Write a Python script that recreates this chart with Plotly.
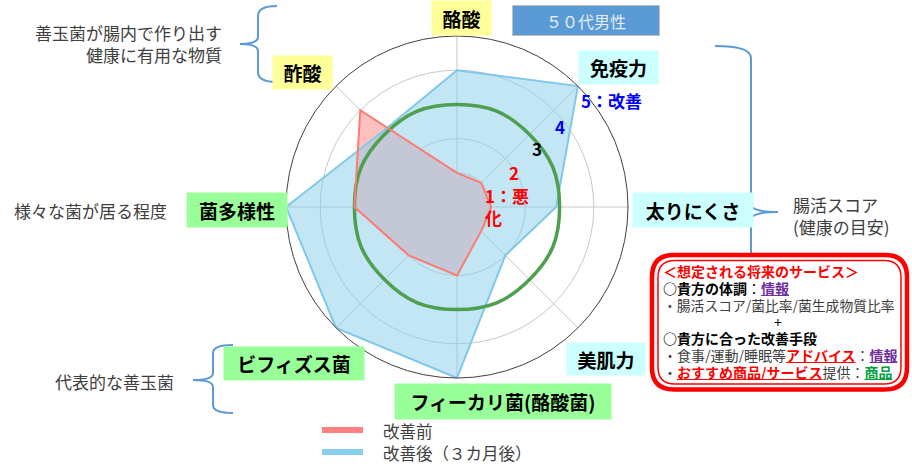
import plotly.graph_objects as go

W, H = 912, 475

# ---- data ----
categories = ["酪酸", "免疫力", "太りにくさ", "美肌力", "フィーカリ菌(酪酸菌)", "ビフィズス菌", "菌多様性", "酢酸"]
before_vals = [1, 1, 1, 1, 2, 2, 3, 4]          # 改善前
after_vals = [4, 5, 2.9, 2, 5, 5, 5, 3.1]        # 改善後（３カ月後）
average_vals = [3, 3, 3, 3, 3, 3, 3, 3]          # reference level
radial_ticks = [1, 2, 3, 4, 5]
series_names = ["改善前", "改善後（３カ月後）"]

FONT = "Noto Sans CJK JP"


def px(x):
    return x / W


def py(y):
    return 1 - y / H


def closed(v):
    return list(v) + [v[0]]


theta = closed(categories)

fig = go.Figure()

# red fill (under)
fig.add_trace(go.Scatterpolar(r=closed(before_vals), theta=theta, mode="lines", fill="toself",
                              fillcolor="rgb(255,192,192)", line=dict(width=0, color="rgba(0,0,0,0)"),
                              showlegend=False, hoverinfo="skip"))
# blue
fig.add_trace(go.Scatterpolar(r=closed(after_vals), theta=theta, mode="lines", fill="toself",
                              fillcolor="rgba(135,206,235,0.5)", line=dict(width=2, color="#80C8E8"),
                              name=series_names[1], showlegend=False))
# green reference circle
fig.add_trace(go.Scatterpolar(r=closed(average_vals), theta=theta, mode="lines",
                              line=dict(width=3.5, color="#4E9F50", shape="spline", smoothing=1.3),
                              showlegend=False, hoverinfo="skip"))
# red line on top
fig.add_trace(go.Scatterpolar(r=closed(before_vals), theta=theta, mode="lines",
                              line=dict(width=2, color="#FF7B72"),
                              name=series_names[0], showlegend=False))

cx, cy, R = 457, 207, 171

fig.update_layout(
    width=W, height=H, margin=dict(l=0, r=0, t=0, b=0),
    paper_bgcolor="white", plot_bgcolor="white",
    font=dict(family=FONT, color="#404040"),
    polar=dict(
        domain=dict(x=[px(cx - R), px(cx + R)], y=[py(cy + R), py(cy - R)]),
        bgcolor="white",
        angularaxis=dict(categoryarray=categories, categoryorder="array", rotation=90,
                         direction="clockwise", showticklabels=False, ticks="",
                         linecolor="#404040", linewidth=1, gridcolor="#C8C8C8", gridwidth=1),
        radialaxis=dict(range=[0, 5], tickvals=radial_ticks, showticklabels=False, ticks="",
                        showline=False, gridcolor="#C8C8C8", gridwidth=1),
    ),
)

annotations = []


def box(text, x0, y0, x1, y1, bg, size=19, color="#000000", bold=True):
    annotations.append(dict(
        text=f"<b>{text}</b>" if bold else text, x=px((x0 + x1) / 2), y=py((y0 + y1) / 2),
        xref="paper", yref="paper", xanchor="center", yanchor="middle", showarrow=False,
        width=x1 - x0, height=y1 - y0, bgcolor=bg, borderpad=0,
        font=dict(family=FONT, size=size, color=color)))


YEL, CYN, GRN = "#FFFF99", "#CCFFFF", "#99FF99"
box(categories[0], 432, 1, 491, 35, YEL)
box(categories[7], 273, 56, 332, 89, YEL)
box(categories[1], 579, 51, 658, 84, CYN)
box(categories[2], 633, 193, 753, 227, CYN)
box(categories[3], 567, 343, 645, 375, CYN)
box(categories[4], 395, 384, 611, 419, GRN)
box(categories[5], 224, 347, 364, 380, GRN)
box(categories[6], 187, 193, 287, 227, GRN)

# title box
annotations.append(dict(text="５０代男性", x=px(586), y=py(20.5), xref="paper", yref="paper",
                        xanchor="center", yanchor="middle", showarrow=False, width=146, height=29,
                        bgcolor="#5B9BD5", bordercolor="#BFBFBF", borderwidth=1, borderpad=0,
                        font=dict(family=FONT, size=16, color="#E4ECF6")))


def txt(text, x, y, size=17, color="#404040", xanchor="left", align="left", height=None):
    a = dict(text=text, x=px(x), y=py(y), xref="paper", yref="paper",
             xanchor=xanchor, yanchor="middle", showarrow=False, align=align,
             font=dict(family=FONT, size=size, color=color))
    if height is not None:
        a["height"] = height
        a["borderpad"] = 0
    annotations.append(a)


txt("善玉菌が腸内で作り出す<br>健康に有用な物質", 224, 44, xanchor="right", align="right")
txt("様々な菌が居る程度", 12, 210)
txt("代表的な善玉菌", 53, 381)
txt("腸活スコア<br>(健康の目安)", 791, 216)

# scale labels
txt("<b>5：改善</b>", 579, 100, color="#0000FF")
txt("<b>4</b>", 560, 126, color="#0000FF", xanchor="center")
txt("<b>3</b>", 537, 148, color="#000000", xanchor="center")
txt("<b>2</b>", 514, 172, color="#FF0000", xanchor="center")
txt("<b>1：悪<br>化</b>", 483, 206, color="#FF0000")

# legend
txt(series_names[0], 381, 431, size=16.5)
txt(series_names[1], 381, 453, size=16.5)

# service box text
BX = 662
LH = 16
RED, PUR, GR = "#FF0000", "#7030A0", "#00A040"
txt(f"<b>＜想定される将来のサービス＞</b>", BX, 271, size=14, color=RED, height=LH)
txt(f"<b>○貴方の体調</b>：<span style='color:{PUR}'><b><u>情報</u></b></span>", BX, 288, size=14,
    color="#000000", height=LH)
txt("・腸活スコア/菌比率/菌生成物質比率", BX, 305, size=13.8, height=LH)
txt("+", 778, 322, size=14, color="#000000", xanchor="center", height=LH)
txt("<b>○貴方に合った改善手段</b>", BX, 338, size=14, color="#000000", height=LH)
txt(f"・食事/運動/睡眠等<span style='color:{RED}'><b><u>アドバイス</u></b></span>：<span style='color:{PUR}'><b><u>情報</u></b></span>",
    BX, 355, size=14, height=LH)
txt(f"・<span style='color:{RED}'><b><u>おすすめ商品/サービス</u></b></span>提供：<span style='color:{GR}'><b><u>商品</u></b></span>",
    BX, 372, size=14, height=LH)

fig.update_layout(annotations=annotations)


def path(cmds):
    out = []
    for c in cmds:
        if isinstance(c, str):
            out.append(c)
        else:
            out.append(f"{px(c[0]):.5f},{py(c[1]):.5f}")
    return " ".join(out)


def rrect(x0, y0, x1, y1, r):
    return path(["M", (x0 + r, y0), "L", (x1 - r, y0), "Q", (x1, y0), (x1, y0 + r),
                 "L", (x1, y1 - r), "Q", (x1, y1), (x1 - r, y1), "L", (x0 + r, y1),
                 "Q", (x0, y1), (x0, y1 - r), "L", (x0, y0 + r), "Q", (x0, y0), (x0 + r, y0), "Z"])


BLUE_BR = "#5B9BD5"
shapes = []
# left top brace
shapes.append(dict(type="path", xref="paper", yref="paper", line=dict(color=BLUE_BR, width=2),
                   path=path(["M", (277, 6), "Q", (258, 6), (258, 16), "L", (258, 37), "Q", (258, 44), (240, 44),
                              "Q", (258, 44), (258, 51), "L", (258, 72), "Q", (258, 82), (277, 82)])))
# bottom-left brace
shapes.append(dict(type="path", xref="paper", yref="paper", line=dict(color=BLUE_BR, width=2),
                   path=path(["M", (233, 345), "Q", (213, 345), (213, 353), "L", (213, 373), "Q", (213, 380), (193, 380),
                              "Q", (213, 380), (213, 387), "L", (213, 405), "Q", (213, 413), (233, 413)])))
# right brace
shapes.append(dict(type="path", xref="paper", yref="paper", line=dict(color=BLUE_BR, width=2),
                   path=path(["M", (715, 46), "Q", (751, 46), (751, 58), "L", (751, 204), "Q", (751, 212), (778, 212),
                              "Q", (751, 212), (751, 220), "L", (751, 366), "Q", (751, 378), (715, 378)])))
# service box
shapes.append(dict(type="path", xref="paper", yref="paper", line=dict(color="#FF0000", width=4.5),
                   fillcolor="white", path=rrect(652, 255, 907, 389.5, 22)))
shapes.append(dict(type="path", xref="paper", yref="paper", line=dict(color="#FF0000", width=1.5),
                   path=rrect(658, 260.5, 901, 384, 17)))
# legend lines
shapes.append(dict(type="line", xref="paper", yref="paper", x0=px(322), x1=px(363), y0=py(430), y1=py(430),
                   line=dict(color="#FF8080", width=6)))
shapes.append(dict(type="line", xref="paper", yref="paper", x0=px(322), x1=px(363), y0=py(452), y1=py(452),
                   line=dict(color="#87CEEB", width=6)))
fig.update_layout(shapes=shapes)

fig.write_html("out.html", config={"displayModeBar": False},
               post_script="document.body.style.margin='0';document.body.style.overflow='hidden';")
